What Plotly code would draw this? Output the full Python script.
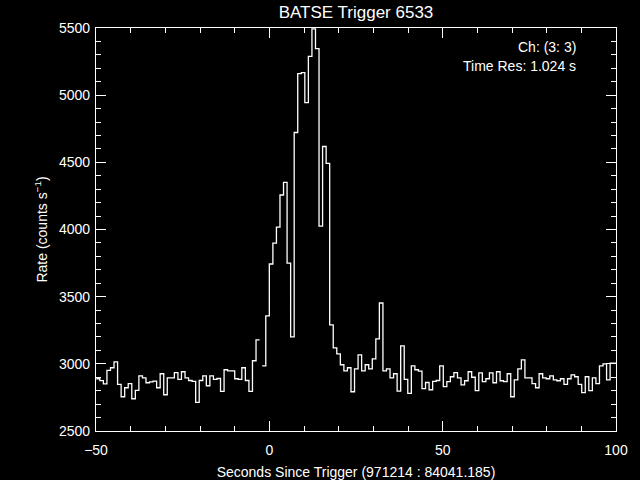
import numpy as np
import plotly.graph_objects as go

# BATSE trigger 6533, channel 3, 1.024 s resolution
bin_width = 1.024

# pre-trigger record (counts / s), starts just inside -50 s
pre_t0 = -49.92
pre_rate = [
    2889, 2875, 2851, 2951, 2971, 3015, 2847, 2755, 2822, 2852,
    2740, 2802, 2911, 2896, 2859, 2865, 2871, 2822, 2926, 2770,
    2896, 2896, 2934, 2884, 2941, 2896, 2876, 2869, 2713, 2876,
    2911, 2837, 2911, 2884, 2891, 2795, 2956, 2948, 2948, 2889,
    2884, 2971, 2876, 2795, 3023, 3178,
]

# post-trigger record (counts / s), bins start at -2.048 s
post_t0 = -2.048
post_rate = [
    2985, 3357, 3743, 3898, 4017, 4257, 4351, 3750, 3200, 4722,
    5160, 5168, 4945, 5289, 5494, 5346, 4025, 4618, 4492, 3290,
    3119, 3074, 2993, 2948, 2971, 2792, 2963, 3067, 2948, 2993,
    2963, 3037, 3186, 3453, 2948, 2963, 2896, 2926, 2797, 3134,
    2884, 2780, 2985, 2956, 2945, 2815, 2861, 2807, 2869, 2876,
    2985, 2830, 2867, 2904, 2934, 2896, 2844, 2874, 2941, 2900,
    2800, 2933, 2867, 2889, 2933, 2859, 2941, 2874, 2867, 2926,
    2755, 2881, 2963, 3030, 2896, 2896, 2852, 2822, 2926, 2896,
    2889, 2911, 2881, 2874, 2889, 2847, 2889, 2918, 2904, 2847,
    2785, 2904, 2800, 2896, 2852, 2985, 3000, 2881, 3005, 3005,
]

x_ticks = [-50, 0, 50, 100]
y_ticks = [2500, 3000, 3500, 4000, 4500, 5000, 5500]


def step_xy(t0, rate):
    # left edges plus a closing right edge so the last bin gets drawn
    edges = t0 + bin_width * np.arange(len(rate) + 1)
    return edges, list(rate) + [rate[-1]]


fig = go.Figure()
for t0, rate in [(pre_t0, pre_rate), (post_t0, post_rate)]:
    x, y = step_xy(t0, rate)
    fig.add_trace(go.Scatter(
        x=x, y=y, mode="lines", line_shape="hv",
        line=dict(color="white", width=1.3),
        hoverinfo="skip",
    ))

font = "Liberation Sans"
axis_common = dict(
    showline=True, linecolor="white", linewidth=1.2, mirror="ticks",
    ticks="inside", ticklen=10, tickwidth=1.2, tickcolor="white",
    showgrid=False, zeroline=False, automargin=False,
    tickfont=dict(family=font, size=14, color="white"),
)

fig.update_xaxes(
    range=[-50, 100], tickvals=x_ticks,
    minor=dict(dtick=10, ticks="inside", ticklen=5, tickwidth=1.2,
               tickcolor="white", showgrid=False),
    ticklabelstandoff=6,
    title=dict(text="Seconds Since Trigger (971214 : 84041.185)",
               font=dict(family=font, size=14, color="white"), standoff=10),
    **axis_common,
)
fig.update_yaxes(
    range=[2500, 5500], tickvals=y_ticks,
    minor=dict(dtick=100, ticks="inside", ticklen=5, tickwidth=1.2,
               tickcolor="white", showgrid=False),
    ticklabelstandoff=2,
    title=dict(text="Rate (counts s<sup>\u22121</sup>)",
               font=dict(family=font, size=14, color="white"), standoff=8),
    **axis_common,
)

fig.add_annotation(text="Ch: (3: 3)", xref="paper", yref="paper",
                   x=0.927, y=0.953, xanchor="right", yanchor="middle",
                   showarrow=False, font=dict(family=font, size=14, color="white"))
fig.add_annotation(text="Time Res: 1.024 s", xref="paper", yref="paper",
                   x=0.927, y=0.906, xanchor="right", yanchor="middle",
                   showarrow=False, font=dict(family=font, size=14, color="white"))

fig.update_layout(
    width=640, height=480,
    paper_bgcolor="black", plot_bgcolor="black",
    margin=dict(l=96, r=24, t=28, b=49, autoexpand=False),
    showlegend=False,
    title=dict(text="BATSE Trigger 6533", xref="paper", x=0.5, xanchor="center",
               yref="container", y=0.975, yanchor="middle", automargin=False,
               font=dict(family=font, size=17, color="white")),
)

# the page's default body margin would shift the figure by 8 px
fig.write_html(
    "out.html",
    config={"displayModeBar": False},
    post_script="document.body.style.margin='0';document.body.style.background='black';",
)
